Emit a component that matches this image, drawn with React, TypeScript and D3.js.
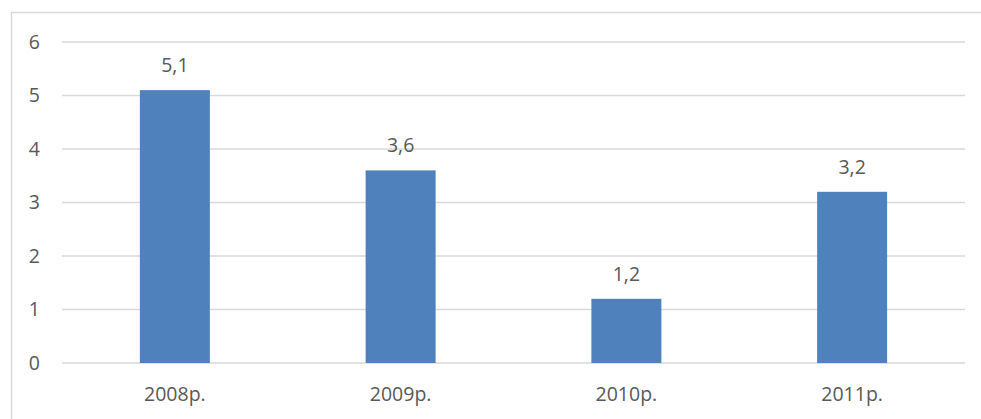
import React from "react";
import * as d3 from "d3";

const categories = ["2008р.", "2009р.", "2010р.", "2011р."];
const values = [5.1, 3.6, 1.2, 3.2];
const valueLabels = ["5,1", "3,6", "1,2", "3,2"];
const yTicks = [0, 1, 2, 3, 4, 5, 6];

const W = 981;
const H = 419;
const plot = { left: 62, right: 965, top: 42, bottom: 363 };
const FONT = "'Open Sans', 'Noto Sans', sans-serif";
const TEXT = "#595959";
const FS = 19.5;

export default function App() {
  const x = d3
    .scaleBand<string>()
    .domain(categories)
    .range([plot.left, plot.right])
    .paddingInner(0.69)
    .paddingOuter(0.345);
  const y = d3.scaleLinear().domain([0, 6]).range([plot.bottom, plot.top]);

  return (
    <svg
      width={W}
      height={H}
      style={{ position: "absolute", left: 0, top: 0, background: "#fff" }}
    >
      <rect x={11.5} y={12.5} width={W + 10} height={H + 10} fill="#fff" stroke="#d9d9d9" strokeWidth={1.5} />
      {yTicks.map((t) => (
        <g key={t}>
          <line x1={plot.left} x2={plot.right} y1={y(t)} y2={y(t)} stroke="#d9d9d9" strokeWidth={1.5} />
          <text x={40} y={y(t)} dy="0.35em" textAnchor="end" fontFamily={FONT} fontSize={FS} fill={TEXT}>
            {t}
          </text>
        </g>
      ))}
      {categories.map((c, i) => (
        <g key={c}>
          <rect x={x(c)} y={y(values[i])} width={x.bandwidth()} height={y(0) - y(values[i])} fill="#4f81bd" />
          <text
            x={(x(c) ?? 0) + x.bandwidth() / 2}
            y={y(values[i]) - 18}
            textAnchor="middle"
            fontFamily={FONT}
            fontSize={FS}
            fill={TEXT}
          >
            {valueLabels[i]}
          </text>
          <text
            x={(x(c) ?? 0) + x.bandwidth() / 2}
            y={401}
            textAnchor="middle"
            fontFamily={FONT}
            fontSize={FS}
            fill={TEXT}
          >
            {c}
          </text>
        </g>
      ))}
    </svg>
  );
}
